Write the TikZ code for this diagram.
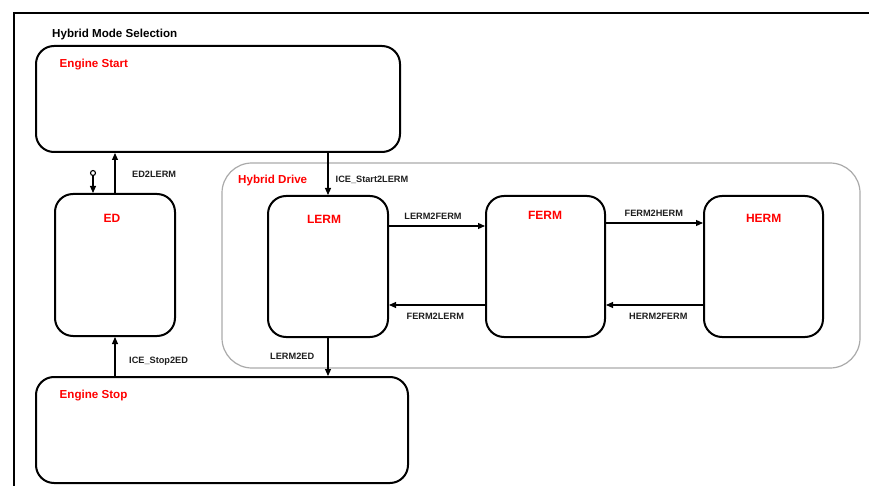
\documentclass[tikz,border=0pt]{standalone}
\usepackage{fontspec}
\setmainfont{Liberation Sans}
\usetikzlibrary{arrows.meta}
\definecolor{statered}{RGB}{255,0,0}
\definecolor{txtdark}{RGB}{30,30,30}
\definecolor{groupgray}{RGB}{170,170,170}
\tikzset{
  state/.style={draw=black, line width=2pt, rounded corners=18pt, fill=white, inner sep=0pt},
  group/.style={draw=groupgray, line width=1.2pt, rounded corners=30pt, inner sep=0pt},
  statename/.style={text=statered, font=\bfseries\fontsize{12}{14}\selectfont, inner sep=0pt, anchor=base},
  titletxt/.style={text=statered, font=\bfseries\fontsize{11.6}{13}\selectfont, anchor=base west, inner sep=0pt},
  trans/.style={draw=black, line width=1.1pt, -{Triangle[length=7pt,width=6pt]}},
  translabel/.style={text=txtdark, font=\bfseries\fontsize{9.2}{10}\selectfont, inner sep=0pt, anchor=base}
}
\begin{document}
\begin{tikzpicture}[x=1pt,y=-1pt]
  \useasboundingbox (0,0) rectangle (869,486);
  % chart frame
  \draw[line width=2pt] (14,487) -- (14,13) -- (870,13);
  \node[anchor=base west, text=black, font=\bfseries\fontsize{11.6}{13}\selectfont, inner sep=0pt] (chart) at (52,37.3) {Hybrid Mode Selection};

  % Hybrid Drive super-state
  \node[group, minimum width=638pt, minimum height=205pt] (hd) at (541,265.5) {};
  \node[titletxt] (hdname) at (238,183.7) {Hybrid Drive};

  % top-level states
  \node[state, minimum width=364pt, minimum height=106pt] (es) at (218,99) {};
  \node[titletxt] (esname) at (59.5,67.3) {Engine Start};
  \node[state, minimum width=120pt, minimum height=142pt] (ed) at (115,265) {};
  \node[statename] (edname) at (112,222.7) {ED};
  \node[state, minimum width=372pt, minimum height=106pt] (estop) at (222,430) {};
  \node[titletxt] (estopname) at (59.5,398.3) {Engine Stop};

  % driving modes
  \node[state, minimum width=120pt, minimum height=141pt] (lerm) at (328,266.5) {};
  \node[statename] (lermname) at (324,224) {LERM};
  \node[state, minimum width=119pt, minimum height=141pt] (ferm) at (545.5,266.5) {};
  \node[statename] (fermname) at (545,219) {FERM};
  \node[state, minimum width=119pt, minimum height=141pt] (herm) at (763.5,266.5) {};
  \node[statename] (hermname) at (763.7,222.7) {HERM};

  % default transition
  \node[circle, draw=black, line width=1.1pt, fill=white, inner sep=0pt, minimum size=5pt] (init) at (93,173) {};
  \draw[trans] (init) -- (init |- ed.north);

  % vertical transitions
  \draw[trans] (ed.north) -- (ed.north |- es.south);
  \node[translabel, anchor=base west] (l1) at (132,177.3) {ED2LERM};
  \draw[trans] (lerm.north |- es.south) -- (lerm.north);
  \node[translabel, anchor=base west] (l2) at (335.5,182.3) {ICE\_Start2LERM};
  \draw[trans] (lerm.south) -- (lerm.south |- estop.north);
  \node[translabel, anchor=base west] (l3) at (270,359.3) {LERM2ED};
  \draw[trans] (ed.south |- estop.north) -- (ed.south);
  \node[translabel, anchor=base west] (l4) at (129,363.3) {ICE\_Stop2ED};

  % horizontal transitions
  \draw[trans] ([yshift=40.5pt]lerm.east) -- ([yshift=40.5pt]lerm.east -| ferm.west);
  \node[translabel] (l5) at (433,219.3) {LERM2FERM};
  \draw[trans] ([yshift=-38.5pt]ferm.west) -- ([yshift=-38.5pt]ferm.west -| lerm.east);
  \node[translabel] (l6) at (435.3,319.3) {FERM2LERM};
  \draw[trans] ([yshift=43.5pt]ferm.east) -- ([yshift=43.5pt]ferm.east -| herm.west);
  \node[translabel] (l7) at (653.8,216.7) {FERM2HERM};
  \draw[trans] ([yshift=-38.5pt]herm.west) -- ([yshift=-38.5pt]herm.west -| ferm.east);
  \node[translabel] (l8) at (658.3,319.3) {HERM2FERM};
\end{tikzpicture}
\end{document}
